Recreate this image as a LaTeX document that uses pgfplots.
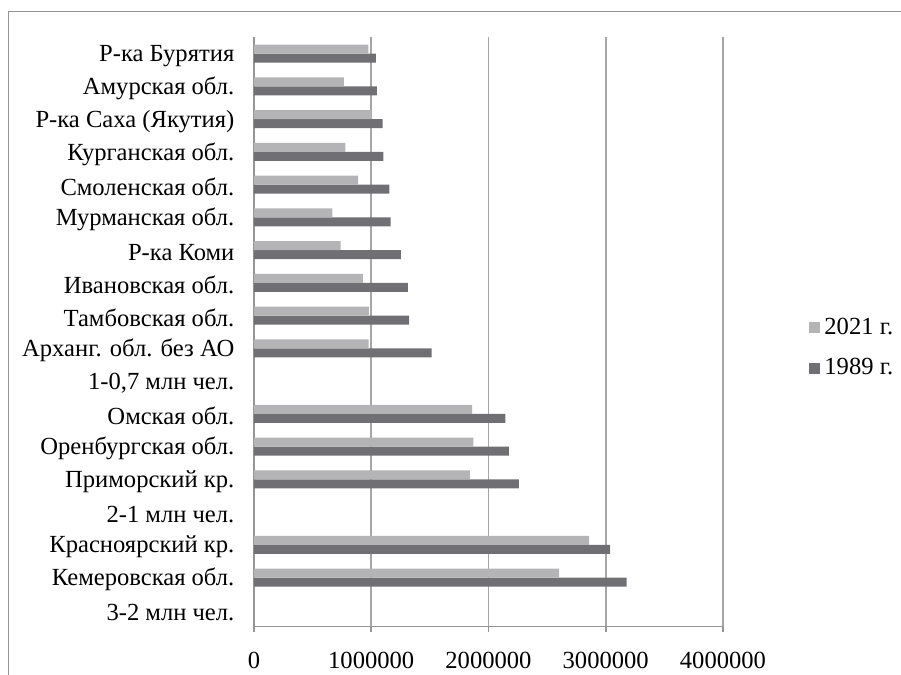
\documentclass[border=0pt]{standalone}
\usepackage{fontspec}
\setmainfont{Liberation Serif}
\usepackage{pgfplots}
\pgfplotsset{compat=1.18}

\definecolor{barlight}{HTML}{B4B4B6}
\definecolor{bardark}{HTML}{707074}
\definecolor{gridgray}{HTML}{A6A6A6}
\definecolor{axisgray}{HTML}{959595}

\begin{document}
\begin{tikzpicture}
  % page size: 901 x 675 px at 0.5pt per px
  \path[use as bounding box] (0,0) rectangle (450.5pt,337.5pt);
  \draw[axisgray, line width=0.8pt] (4.25pt,0) -- (4.25pt,331.75pt) -- (450.5pt,331.75pt);
  \begin{axis}[
      at={(127pt,24.15pt)}, anchor=south west,
      scale only axis,
      width=234.5pt, height=294.7pt,
      xbar, bar width=4.5pt,
      xmin=0, xmax=4000000,
      ymin=-0.5, ymax=17.5,
      axis x line*=bottom, axis y line*=left,
      axis line style={axisgray, line width=0.8pt},
      xtick={0,1000000,2000000,3000000,4000000},
      xticklabels={0,1000000,2000000,3000000,4000000},
      scaled x ticks=false,
      xmajorgrids, major grid style={gridgray, line width=0.8pt},
      tick align=outside,
      major tick length=2.5pt,
      every tick/.style={axisgray, line width=0.8pt},
      ytick={0,...,17},
      yticklabels={3-2 млн чел., Кемеровская обл., Красноярский кр., 2-1 млн чел.,
        Приморский кр., Оренбургская обл., Омская обл., {1-0,7 млн чел.},
        Арханг. обл. без АО, Тамбовская обл., Ивановская обл., Р-ка Коми,
        Мурманская обл., Смоленская обл., Курганская обл., Р-ка Саха (Якутия),
        Амурская обл., Р-ка Бурятия},
      y tick style={draw=none},
      minor ytick={-0.5,0.5,...,17.5},
      minor y tick style={axisgray, line width=0.8pt},
      minor tick length=2.5pt,
      tick label style={font=\fontsize{12.3}{14}\selectfont},
      yticklabel style={xshift=-3.8pt, yshift=-1pt},
      xticklabel style={yshift=-6.5pt},
      reverse legend,
      legend style={
        at={(1.1706,0.4729)}, anchor=west,
        draw=none, fill=none,
        font=\fontsize{12.3}{14}\selectfont,
        row sep=6.5pt,
        cells={anchor=west},
      },
      legend image code/.code={
        \fill[#1] (0pt,-2.75pt) rectangle (5.5pt,2.75pt);
      },
    ]
    \addplot[draw=none, fill=bardark, bar shift=-2.25pt] coordinates {
      (3177000,1) (3038000,2)
      (2259000,4) (2174000,5) (2143000,6)
      (1515000,8) (1324000,9) (1313000,10) (1253000,11) (1165000,12)
      (1154000,13) (1103000,14) (1097000,15) (1049000,16) (1040000,17) };
    \addplot[draw=none, fill=barlight, bar shift=2.25pt] coordinates {
      (2603000,1) (2859000,2)
      (1841000,4) (1870000,5) (1861000,6)
      (978000,8) (980000,9) (929000,10) (739000,11) (668000,12)
      (889000,13) (779000,14) (1003000,15) (767000,16) (975000,17) };
    \legend{1989 г., 2021 г.}
  \end{axis}
\end{tikzpicture}
\end{document}
